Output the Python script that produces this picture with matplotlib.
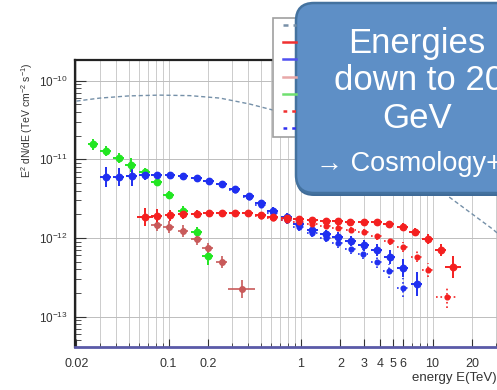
import numpy as np
import matplotlib
matplotlib.use('Agg')
import matplotlib.pyplot as plt
from matplotlib.patches import FancyBboxPatch, Rectangle
from matplotlib.lines import Line2D

plt.rcParams['font.family'] = ['Liberation Sans', 'DejaVu Sans']
plt.rcParams['mathtext.fontset'] = 'custom'
plt.rcParams['mathtext.rm'] = 'Liberation Sans'
plt.rcParams['mathtext.it'] = 'Liberation Sans:italic'

# model curve (dashed)
curve_E = [0.02, 0.03, 0.05, 0.085, 0.145, 0.245, 0.41, 0.61, 1.0, 2.0, 5.0, 12.8, 28.5, 40]
curve_F = [5.5e-11, 6.0e-11, 6.4e-11, 6.55e-11, 6.45e-11, 6.0e-11, 5.05e-11, 4.25e-11,
           3.3e-11, 2.1e-11, 9.6e-12, 3.5e-12, 1.3e-12, 8e-13]

# green points
green_E = [0.0266, 0.0333, 0.0418, 0.0515, 0.0658, 0.0811, 0.1, 0.128, 0.163, 0.197]
green_F = [1.56e-11, 1.27e-11, 1.04e-11, 8.5e-12, 6.9e-12, 5.15e-12, 3.5e-12, 2.2e-12, 1.19e-12, 5.9e-13]
green_dy = [0.07, 0.06, 0.06, 0.09, 0.05, 0.05, 0.05, 0.06, 0.07, 0.12]

# brownish red points
brown_E = [0.081, 0.1, 0.128, 0.163, 0.197, 0.252, 0.357]
brown_F = [1.46e-12, 1.38e-12, 1.23e-12, 9.7e-13, 7.46e-13, 4.96e-13, 2.25e-13]
brown_dy = [0.08, 0.08, 0.08, 0.08, 0.07, 0.08, 0.12]
brown_dx = [0.04, 0.04, 0.04, 0.04, 0.04, 0.04, 0.1]

# blue solid
blue_E = [0.0333, 0.0418, 0.0525, 0.0658, 0.0811, 0.102, 0.128, 0.163, 0.201, 0.252, 0.316, 0.404,
          0.498, 0.614, 0.783, 0.966, 1.23, 1.55, 1.91, 2.39, 3.0, 3.77, 4.72, 5.93, 7.57]
blue_F = [5.96e-12, 5.96e-12, 6.1e-12, 6.3e-12, 6.3e-12, 6.3e-12, 6.1e-12, 5.8e-12, 5.3e-12, 4.86e-12,
          4.2e-12, 3.42e-12, 2.79e-12, 2.2e-12, 1.85e-12, 1.5e-12, 1.26e-12, 1.12e-12, 1.03e-12,
          9.2e-13, 8.1e-13, 7.05e-13, 5.74e-13, 4.16e-13, 2.6e-13]
blue_dy = [0.13, 0.12, 0.13, 0.06, 0.04, 0.04, 0.04, 0.04, 0.04, 0.04, 0.04, 0.04, 0.04, 0.05,
           0.05, 0.05, 0.05, 0.05, 0.06, 0.06, 0.07, 0.08, 0.09, 0.11, 0.15]

# blue dotted
blue2_E = [0.316, 0.404, 0.498, 0.614, 0.783, 0.966, 1.23, 1.55, 1.91, 2.39, 2.96, 3.77, 4.64, 5.93]
blue2_F = [4.07e-12, 3.32e-12, 2.62e-12, 2.08e-12, 1.69e-12, 1.38e-12, 1.16e-12, 1.0e-12, 8.6e-13,
           7.25e-13, 6.3e-13, 4.96e-13, 3.8e-13, 2.32e-13]
blue2_dy = [0.04, 0.04, 0.04, 0.04, 0.05, 0.05, 0.05, 0.05, 0.06, 0.06, 0.07, 0.08, 0.09, 0.12]

# red solid
red_E = [0.0658, 0.0811, 0.102, 0.128, 0.163, 0.201, 0.252, 0.316, 0.397, 0.498, 0.614, 0.783,
         0.966, 1.23, 1.55, 1.91, 2.37, 3.0, 3.77, 4.64, 5.93, 7.32, 9.17, 11.5, 14.2]
red_F = [1.85e-12, 1.9e-12, 1.96e-12, 2.02e-12, 2.02e-12, 2.08e-12, 2.08e-12, 2.08e-12, 2.08e-12,
         1.96e-12, 1.85e-12, 1.8e-12, 1.74e-12, 1.69e-12, 1.64e-12, 1.64e-12, 1.6e-12, 1.6e-12,
         1.6e-12, 1.5e-12, 1.38e-12, 1.19e-12, 9.7e-13, 7.05e-13, 4.28e-13]
red_dy = [0.12, 0.09, 0.07, 0.06, 0.05, 0.04, 0.04, 0.04, 0.04, 0.04, 0.04, 0.04, 0.04, 0.04,
          0.04, 0.04, 0.04, 0.04, 0.04, 0.04, 0.05, 0.05, 0.06, 0.08, 0.14]
red_dx = [0.06] + [0.04] * 23 + [0.06]

# red dotted
red2_E = [0.498, 0.614, 0.783, 0.966, 1.23, 1.55, 1.91, 2.41, 3.0, 3.77, 4.72, 5.93, 7.57, 9.17, 12.8]
red2_F = [1.9e-12, 1.8e-12, 1.69e-12, 1.6e-12, 1.5e-12, 1.42e-12, 1.34e-12, 1.26e-12, 1.19e-12,
          1.06e-12, 9.2e-13, 7.7e-13, 5.74e-13, 3.9e-13, 1.78e-13]
red2_dy = [0.04] * 9 + [0.05, 0.05, 0.06, 0.07, 0.09, 0.14]
red2_dx = [0.04] * 14 + [0.08]

x_major = [0.02, 0.1, 0.2, 1, 2, 3, 4, 5, 6, 10, 20]
x_labels = ['0.02', '0.1', '0.2', '1', '2', '3', '4', '5', '6', '10', '20']


def draw(ax, E, F, dy, dx, color, ms, lw, ls='-'):
    E = np.array(E)
    F = np.array(F)
    dy = np.array(dy)
    dx = np.array(dx)
    xerr = [E - E * 10 ** (-dx), E * 10 ** dx - E]
    yerr = [F - F * 10 ** (-dy), F * 10 ** dy - F]
    c = ax.errorbar(E, F, xerr=xerr, yerr=yerr, fmt='o', color=color, ms=ms, mec=color,
                    elinewidth=lw, capsize=0, zorder=3)
    if ls != '-':
        for b in c[2]:
            b.set_linestyle(ls)


fig = plt.figure(figsize=(4.97, 3.9), dpi=100)
ax = fig.add_axes([75 / 497, 43 / 390, 437 / 497, 287 / 390])
ax.set_xscale('log')
ax.set_yscale('log')
ax.set_xlim(0.0195, 40)
ax.set_ylim(4.12e-14, 1.83e-10)

ax.plot(curve_E, curve_F, ls=(0, (3, 2)), color='#7590a8', lw=1.0, zorder=2)

draw(ax, green_E, green_F, green_dy, 0.04, '#22e622', 4.6, 1.4)
draw(ax, brown_E, brown_F, brown_dy, brown_dx, '#c85a5a', 4, 1.2)
draw(ax, blue_E, blue_F, blue_dy, 0.04, '#1f2ff0', 4.6, 1.4)
draw(ax, blue2_E, blue2_F, blue2_dy, 0.04, '#1f2ff0', 3.4, 1.2, ':')
draw(ax, red_E, red_F, red_dy, red_dx, '#f42020', 4.6, 1.4)
draw(ax, red2_E, red2_F, red2_dy, red2_dx, '#f42020', 3.4, 1.2, ':')

# ticks and grid
x_minor = [m * 10.0 ** d for d in range(-2, 2) for m in range(1, 10)]
x_minor = [v for v in x_minor if 0.0195 < v < 40]
ax.set_xticks(x_minor, minor=True)
ax.set_xticks(x_major)
ax.set_xticklabels(x_labels)
ax.xaxis.set_minor_formatter(plt.NullFormatter())
ax.set_yticks([1e-13, 1e-12, 1e-11, 1e-10])
ax.set_yticklabels(['$10^{-13}$', '$10^{-12}$', '$10^{-11}$', '$10^{-10}$'])
ax.yaxis.set_minor_locator(matplotlib.ticker.LogLocator(subs=np.arange(2, 10)))
ax.yaxis.set_minor_formatter(plt.NullFormatter())

ax.grid(True, which='both', axis='x', color='#c4c4c4', lw=0.6)
ax.grid(True, which='major', axis='y', color='#bdbdbd', lw=0.7)
ax.set_axisbelow(True)

ax.tick_params(axis='both', which='both', direction='in', colors='#333333')
ax.tick_params(axis='x', which='major', length=6, pad=8, labelsize=9)
ax.tick_params(axis='x', which='minor', length=3)
ax.tick_params(axis='y', which='major', length=8, pad=5, labelsize=8.5)
ax.tick_params(axis='y', which='minor', length=4)

ax.spines['left'].set_linewidth(1.6)
ax.spines['top'].set_linewidth(1.6)
ax.spines['left'].set_color('#222222')
ax.spines['top'].set_color('#222222')
ax.spines['bottom'].set_color('#5a5aa8')
ax.spines['bottom'].set_linewidth(2)
ax.spines['right'].set_visible(False)

fig.text(27 / 497, 1 - 120 / 390, r'E$^{2}$ dN/dE (TeV cm$^{-2}$ s$^{-1}$)', rotation=90,
         ha='center', va='center', fontsize=7.5, color='#333333')
fig.text(0.999, 1 - 378 / 390, 'energy E(TeV)', ha='right', va='center', fontsize=9.5,
         color='#333333')

# overlay in pixel coordinates: legend frame and the slide box
ov = fig.add_axes([0, 0, 1, 1])
ov.set_xlim(0, 497)
ov.set_ylim(390, 0)
ov.axis('off')
ov.patch.set_alpha(0)

ov.add_patch(Rectangle((273, 18), 60, 119, facecolor='white', edgecolor='#a0a0a0', lw=1.2))
leg_styles = [('#7890a8', (0, (2, 2))), ('#f03030', '-'), ('#5050f0', '-'), ('#e8a8a8', '-'),
              ('#70e070', '-'), ('#f03030', (0, (1.5, 2))), ('#3030f0', (0, (1.5, 2)))]
for i, (c, ls) in enumerate(leg_styles):
    yy = 25 + i * 17.2
    ov.add_line(Line2D([283, 296], [yy, yy], color=c, ls=ls, lw=1.8))

ov.add_patch(FancyBboxPatch((296, 6), 280, 190, boxstyle='round,pad=0,rounding_size=18',
                            facecolor='#3f6b98', edgecolor='none', clip_on=False))
ov.add_patch(FancyBboxPatch((296, 3), 280, 190, boxstyle='round,pad=0,rounding_size=18',
                            facecolor='#5e8fc6', edgecolor='#44729f', lw=1.8, clip_on=False))

ov.text(417, 44, 'Energies', ha='center', va='center', color='white', fontsize=25)
ov.text(419, 81, 'down to 20', ha='center', va='center', color='white', fontsize=25)
ov.text(417, 119, 'GeV', ha='center', va='center', color='white', fontsize=25)
ov.text(316, 164, '→ Cosmology+', ha='left', va='center', color='white', fontsize=19.5,
        family=['Liberation Sans', 'DejaVu Sans'])

fig.savefig('out.png', dpi=100)
